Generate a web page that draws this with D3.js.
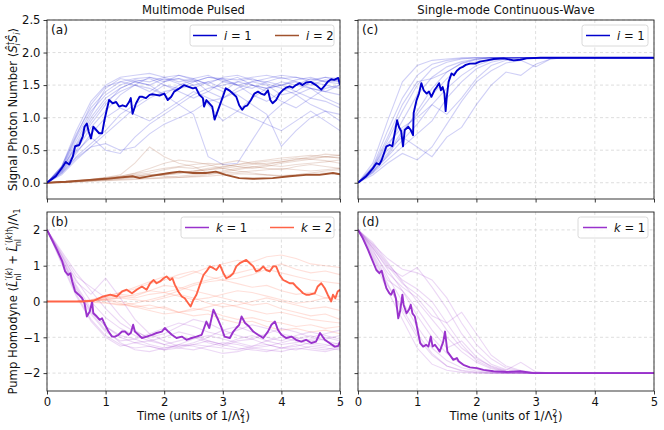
<!DOCTYPE html>
<html>
<head>
<script src="https://d3js.org/d3.v7.min.js"></script>
<style>
  body { margin: 0; background: #fff; }
  text { font-family: "DejaVu Sans", sans-serif; fill: #111; }
  .grid line { stroke: #d6d6d6; stroke-width: 0.8; stroke-dasharray: 3,2.5; }
  .frame { fill: none; stroke: #222; stroke-width: 0.9; }
  .tick line { stroke: #222; stroke-width: 0.9; }
</style>
</head>
<body>
<script>

var width = 664, height = 430;

// common time grid for the faint trajectories
var T = [0,0.25,0.5,0.75,1,1.25,1.5,1.75,2,2.25,2.5,2.75,3,3.25,3.5,3.75,4,4.25,4.5,4.75,5];

// ---- panel (a): multimode pulsed, signal photon number ----
var aBold1 = [[0,0],[0.15,0.10],[0.27,0.25],[0.32,0.32],[0.38,0.28],[0.44,0.40],[0.48,0.56],[0.55,0.58],
  [0.61,0.71],[0.64,0.86],[0.68,0.91],[0.71,0.79],[0.75,0.68],[0.79,0.86],[0.84,0.81],[0.89,0.76],[0.94,0.76],
  [0.98,0.96],[1.02,1.12],[1.06,1.27],[1.12,1.22],[1.18,1.24],[1.23,1.17],[1.29,1.19],[1.35,1.17],[1.40,1.24],
  [1.43,1.30],[1.46,1.06],[1.52,1.22],[1.58,1.32],[1.63,1.32],[1.69,1.30],[1.75,1.35],[1.80,1.36],[1.86,1.35],
  [1.92,1.34],[2.0,1.37],[2.06,1.27],[2.12,1.32],[2.17,1.40],[2.26,1.45],[2.34,1.50],[2.43,1.47],[2.49,1.45],
  [2.54,1.46],[2.60,1.35],[2.66,1.30],[2.68,1.17],[2.72,1.27],[2.77,1.22],[2.82,1.17],[2.86,0.97],[2.90,1.07],
  [2.94,1.17],[3.00,1.32],[3.05,1.45],[3.11,1.42],[3.17,1.37],[3.23,1.32],[3.28,1.19],[3.33,1.12],[3.37,1.17],
  [3.42,1.19],[3.48,1.27],[3.54,1.37],[3.60,1.40],[3.65,1.37],[3.71,1.35],[3.77,1.42],[3.81,1.27],[3.85,1.22],
  [3.91,1.27],[3.97,1.37],[4.02,1.42],[4.08,1.46],[4.14,1.48],[4.19,1.46],[4.25,1.50],[4.31,1.53],[4.36,1.50],
  [4.42,1.54],[4.50,1.55],[4.59,1.50],[4.68,1.43],[4.73,1.48],[4.79,1.55],[4.85,1.59],[4.90,1.58],[4.97,1.61],[5.0,1.50]];
var aBold2 = [[0,0],[0.32,0.015],[0.67,0.04],[1.0,0.06],[1.46,0.10],[1.58,0.07],[1.8,0.11],[2.09,0.15],[2.26,0.17],
  [2.49,0.15],[2.71,0.15],[2.88,0.17],[3.05,0.12],[3.28,0.07],[3.51,0.06],[3.85,0.07],[4.14,0.10],[4.42,0.12],
  [4.65,0.12],[4.88,0.15],[5.0,0.13]];
var aFaint1 = [
  [0,.25,.75,1.15,1.40,1.55,1.60,1.62,1.58,1.60,1.55,1.62,1.60,1.58,1.62,1.65,1.60,1.62,1.58,1.62,1.60],
  [0,.20,.60,1.00,1.30,1.45,1.55,1.50,1.60,1.52,1.45,1.55,1.60,1.50,1.45,1.55,1.62,1.55,1.50,1.58,1.55],
  [0,.18,.50,.85,1.10,1.35,1.50,1.62,1.55,1.65,1.60,1.50,1.40,1.55,1.60,1.52,1.45,1.35,1.20,1.10,1.05],
  [0,.15,.40,.60,.80,1.05,1.20,1.35,1.50,1.45,1.55,1.62,1.58,1.50,1.35,1.25,1.40,1.50,1.45,1.30,1.20],
  [0,.22,.65,1.05,1.45,1.60,1.55,1.50,1.35,1.20,1.05,.40,.28,.30,.65,1.00,1.20,1.35,1.45,1.40,1.50],
  [0,.12,.35,.55,.60,.50,.55,.75,.90,1.00,1.10,1.25,1.30,1.40,1.50,1.45,1.55,1.50,1.60,1.55,1.58],
  [0,.25,.80,1.25,1.50,1.62,1.65,1.68,1.62,1.55,1.60,1.65,1.55,1.50,1.55,1.60,1.65,1.62,1.55,1.50,1.45],
  [0,.16,.45,.75,1.00,1.15,1.05,.95,1.10,1.25,1.40,1.30,1.20,1.10,1.00,.90,.80,.95,1.10,.95,.80],
  [0,.20,.55,.95,1.25,1.40,1.50,1.45,1.35,1.50,1.58,1.40,1.30,1.45,1.55,1.50,1.35,1.40,1.55,1.62,1.55],
  [0,.14,.38,.55,.75,.95,1.15,1.30,1.40,1.45,1.50,1.55,1.45,1.35,1.20,1.05,.56,.80,1.00,1.10,.95],
  [0,.22,.70,1.10,1.35,1.50,1.58,1.55,1.62,1.65,1.58,1.52,1.62,1.65,1.58,1.55,1.50,1.58,1.62,1.55,1.52],
  [0,.18,.48,.70,.50,.45,.70,.90,1.05,1.20,1.35,1.45,1.50,1.55,1.50,1.45,1.50,1.55,1.45,1.40,1.35],
  [0,.24,.72,1.20,1.48,1.55,1.50,1.40,1.55,1.60,1.50,1.20,.95,1.10,1.30,1.45,1.50,1.40,1.30,1.45,1.50],
  [0,.20,.58,.90,1.20,1.45,1.55,1.60,1.50,1.40,1.30,1.40,1.55,1.62,1.50,1.40,1.25,1.15,1.30,1.25,1.15]
];
var aFaint2 = [
  [0,.01,.02,.04,.06,.08,.10,.12,.14,.16,.18,.20,.22,.25,.28,.30,.32,.35,.38,.40,.42],
  [0,.01,.03,.05,.08,.12,.30,.55,.40,.30,.25,.15,.18,.22,.25,.22,.20,.25,.28,.25,.22],
  [0,.01,.02,.03,.05,.07,.09,.10,.12,.15,.18,.22,.25,.28,.32,.35,.38,.40,.42,.40,.38],
  [0,.01,.02,.03,.04,.05,.06,.07,.08,.10,.12,.14,.15,.16,.18,.20,.22,.20,.18,.20,.22],
  [0,.01,.03,.05,.08,.10,.14,.18,.22,.25,.28,.30,.28,.25,.22,.25,.30,.33,.36,.34,.30],
  [0,.00,.01,.02,.03,.04,.05,.06,.07,.08,.09,.10,.12,.14,.13,.12,.11,.12,.14,.15,.13],
  [0,.01,.02,.04,.06,.09,.12,.15,.20,.24,.22,.26,.30,.34,.30,.28,.32,.36,.40,.44,.42],
  [0,.01,.02,.03,.05,.08,.10,.13,.10,.08,.10,.12,.16,.20,.24,.27,.25,.28,.30,.32,.35],
  [0,.01,.02,.04,.07,.10,.15,.22,.30,.35,.32,.28,.22,.18,.15,.12,.10,.12,.15,.18,.20],
  [0,.01,.02,.03,.04,.06,.08,.10,.12,.14,.17,.20,.24,.28,.30,.33,.35,.38,.36,.40,.38]
];

// ---- panel (b): multimode pulsed, pump homodyne ----
var bBold1 = [[0,2],[0.085,1.72],[0.17,1.44],[0.26,1.12],[0.31,0.84],[0.36,0.74],[0.40,0.79],[0.43,0.56],
  [0.48,0.28],[0.54,0.19],[0.60,0.09],[0.64,-0.05],[0.68,-0.42],[0.73,-0.28],[0.77,0.0],[0.79,-0.33],[0.85,-0.42],
  [0.90,-0.51],[0.94,-0.47],[0.99,-0.65],[1.05,-0.84],[1.11,-0.98],[1.16,-0.98],[1.22,-0.93],[1.28,-0.84],
  [1.33,-0.84],[1.39,-0.93],[1.43,-0.88],[1.47,-0.65],[1.50,-0.84],[1.56,-0.93],[1.62,-1.02],[1.70,-0.98],
  [1.79,-0.93],[1.87,-0.88],[1.96,-0.84],[2.01,-0.74],[2.07,-0.84],[2.13,-0.93],[2.21,-1.02],[2.30,-0.98],
  [2.38,-1.07],[2.47,-1.02],[2.55,-0.98],[2.64,-0.93],[2.72,-0.56],[2.77,-0.74],[2.84,-0.23],[2.88,-0.37],
  [2.92,-0.51],[2.97,-0.70],[3.03,-0.98],[3.12,-1.02],[3.18,-0.84],[3.23,-0.74],[3.28,-0.65],[3.32,-0.42],
  [3.38,-0.60],[3.45,-0.70],[3.52,-0.84],[3.60,-0.93],[3.69,-1.02],[3.77,-0.84],[3.83,-0.65],[3.89,-0.56],
  [3.94,-0.79],[4.00,-0.93],[4.08,-1.02],[4.17,-0.98],[4.25,-1.07],[4.34,-1.12],[4.42,-1.07],[4.51,-1.16],
  [4.59,-1.12],[4.66,-0.88],[4.74,-1.07],[4.82,-1.16],[4.91,-1.26],[4.97,-1.24],[5.0,-1.12]];
var bBold2 = [[0,0],[0.6,0],[0.79,0.02],[0.96,0.14],[1.08,0.19],[1.19,0.14],[1.28,0.28],[1.36,0.33],[1.45,0.23],
  [1.53,0.33],[1.62,0.42],[1.70,0.33],[1.76,0.51],[1.82,0.60],[1.87,0.51],[1.93,0.56],[1.99,0.65],[2.04,0.70],
  [2.10,0.60],[2.14,0.65],[2.18,0.47],[2.24,0.28],[2.30,0.14],[2.35,0.09],[2.41,-0.05],[2.45,-0.14],[2.50,0.05],
  [2.55,0.19],[2.61,0.47],[2.67,0.74],[2.72,0.84],[2.78,0.98],[2.84,0.93],[2.89,0.88],[2.95,1.02],[3.01,0.79],
  [3.06,0.65],[3.12,0.70],[3.18,0.79],[3.23,0.98],[3.29,1.07],[3.35,1.12],[3.40,1.16],[3.46,1.07],[3.52,0.98],
  [3.57,0.84],[3.63,0.88],[3.69,0.98],[3.74,0.88],[3.80,0.84],[3.86,0.98],[3.91,0.98],[3.97,0.74],[4.03,0.60],
  [4.08,0.56],[4.14,0.51],[4.20,0.51],[4.25,0.42],[4.31,0.33],[4.37,0.23],[4.42,0.19],[4.48,0.19],[4.57,0.23],
  [4.62,0.42],[4.68,0.51],[4.74,0.37],[4.79,0.19],[4.85,0.0],[4.88,0.19],[4.92,0.09],[4.96,0.28],[5.0,0.33]];
var bFaint1 = [
  [2,1.10,.20,-.50,-.95,-1.20,-1.30,-1.25,-1.35,-1.30,-1.20,-1.25,-1.30,-1.35,-1.25,-1.20,-1.30,-1.35,-1.25,-1.30,-1.35],
  [2,1.25,.45,-.20,-.70,-1.00,-1.15,-1.10,-1.00,-.85,-.95,-1.10,-1.20,-1.05,-.95,-1.10,-1.20,-1.15,-1.05,-1.00,-1.10],
  [2,1.35,.70,.40,.10,-.40,-.80,-1.05,-1.20,-1.30,-1.35,-1.25,-1.15,-1.20,-1.30,-1.25,-1.15,-1.05,-.95,-1.10,-1.20],
  [2,1.15,.30,-.35,-.85,-1.10,-1.05,-.90,-.75,-.60,-.70,-.85,-.95,-.80,-.65,-.75,-.90,-1.00,-1.10,-1.05,-.95],
  [2,1.30,.55,.20,.65,.10,-.50,-.90,-1.10,-1.25,-1.20,-1.10,-1.20,-1.30,-1.35,-1.40,-1.30,-1.20,-1.30,-1.35,-1.25],
  [2,1.20,.40,-.30,-.80,-1.15,-1.35,-1.40,-1.30,-1.20,-1.25,-1.35,-1.45,-1.40,-1.30,-1.35,-1.40,-1.30,-1.35,-1.40,-1.30],
  [2,1.40,.80,.30,-.20,-.60,-.85,-1.00,-.90,-.70,-.50,-.60,-.80,-.95,-1.05,-.90,-.75,-.85,-1.00,-.90,-.80],
  [2,1.05,.15,-.55,-1.00,-1.25,-1.15,-1.25,-1.35,-1.20,-1.05,-.95,-1.05,-1.15,-1.25,-1.10,-1.00,-1.10,-1.20,-1.25,-1.15],
  [2,1.30,.60,.00,-.45,-.75,-.95,-1.10,-1.20,-1.10,-1.00,-1.15,-1.25,-1.10,-1.05,-1.20,-1.30,-1.25,-1.15,-1.20,-1.30],
  [2,1.20,.35,-.25,-.70,-.95,-1.05,-1.20,-1.30,-1.25,-1.15,-1.00,-.80,-.70,-.85,-1.00,-1.10,-.95,-.85,-.95,-1.05]
];
var bFaint2 = [
  [0,0,0,.05,.15,.25,.40,.55,.70,.65,.80,.95,1.05,1.15,1.10,1.25,1.30,1.20,1.05,1.00,.95],
  [0,0,0,.02,.05,.00,-.10,-.20,-.15,-.30,-.40,-.35,-.50,-.60,-.55,-.70,-.80,-.75,-.85,-.80,-.90],
  [0,0,0,.03,.10,.20,.15,.30,.45,.40,.30,.20,.10,.00,-.10,-.05,-.20,-.30,-.40,-.35,-.50],
  [0,0,0,-.02,-.05,-.10,-.05,.05,.15,.30,.45,.55,.60,.50,.40,.45,.30,.20,.25,.10,.05],
  [0,0,0,.04,.12,.25,.35,.50,.60,.75,.85,.70,.60,.65,.75,.90,.80,.70,.60,.55,.50],
  [0,0,0,.01,.04,-.05,-.15,-.25,-.35,-.30,-.20,-.25,-.40,-.50,-.45,-.55,-.60,-.70,-.65,-.75,-.70],
  [0,0,0,.02,.08,.15,.10,.20,.25,.15,.05,.10,.20,.30,.25,.15,.05,-.05,.00,.10,.15],
  [0,0,0,.03,.06,.10,.20,.30,.25,.35,.50,.60,.70,.80,.90,.95,1.05,.90,.80,.85,.75],
  [0,0,0,.00,-.03,-.08,-.15,-.10,-.20,-.30,-.25,-.15,-.05,-.15,-.25,-.35,-.30,-.40,-.50,-.55,-.60],
  [0,0,0,.02,.05,.10,.05,.00,.10,.20,.10,-.05,-.15,-.10,.00,.10,.00,-.10,-.20,-.15,-.25]
];

// ---- panel (c): single-mode CW, signal photon number ----
var cBold1 = [[0,0],[0.14,0.10],[0.25,0.22],[0.31,0.30],[0.36,0.28],[0.40,0.35],[0.45,0.48],[0.48,0.56],
  [0.54,0.58],[0.58,0.56],[0.62,0.76],[0.66,0.96],[0.69,0.86],[0.73,0.79],[0.76,0.56],[0.79,0.81],[0.85,0.86],
  [0.89,0.81],[0.93,0.73],[0.94,1.07],[0.99,1.27],[1.03,1.37],[1.07,1.53],[1.11,1.42],[1.16,1.37],[1.20,1.40],
  [1.24,1.32],[1.29,1.42],[1.33,1.47],[1.37,1.53],[1.40,1.42],[1.43,1.47],[1.46,1.37],[1.48,1.10],[1.50,1.32],
  [1.53,1.55],[1.58,1.68],[1.62,1.65],[1.67,1.72],[1.72,1.76],[1.77,1.78],[1.82,1.81],[1.89,1.83],[1.98,1.83],
  [2.06,1.86],[2.18,1.88],[2.29,1.90],[2.46,1.91],[2.63,1.88],[2.74,1.89],[2.85,1.91],[3.08,1.92],[5.0,1.92]];
var cFaint1 = [
  [0,.30,.95,1.55,1.80,1.88,1.90,1.92,1.92,1.92,1.92,1.92,1.92,1.92,1.92,1.92,1.92,1.92,1.92,1.92,1.92],
  [0,.22,.65,1.10,1.50,1.75,1.85,1.90,1.92,1.92,1.92,1.92,1.92,1.92,1.92,1.92,1.92,1.92,1.92,1.92,1.92],
  [0,.18,.45,.80,1.05,1.35,1.60,1.78,1.86,1.90,1.92,1.92,1.92,1.92,1.92,1.92,1.92,1.92,1.92,1.92,1.92],
  [0,.15,.35,.55,.75,.95,1.30,1.55,1.75,1.85,1.90,1.92,1.92,1.92,1.92,1.92,1.92,1.92,1.92,1.92,1.92],
  [0,.20,.50,.70,.55,.40,.70,.85,1.20,1.50,1.70,1.65,1.82,1.90,1.92,1.92,1.92,1.92,1.92,1.92,1.92],
  [0,.25,.80,1.30,1.65,1.82,1.88,1.91,1.92,1.92,1.92,1.92,1.92,1.92,1.92,1.92,1.92,1.92,1.92,1.92,1.92],
  [0,.17,.40,.65,.90,1.20,1.05,1.30,1.60,1.80,1.88,1.90,1.92,1.92,1.92,1.92,1.92,1.92,1.92,1.92,1.92],
  [0,.20,.55,.95,1.35,1.62,1.78,1.86,1.90,1.92,1.92,1.92,1.92,1.92,1.92,1.92,1.92,1.92,1.92,1.92,1.92],
  [0,.12,.30,.45,.35,.55,.90,1.25,1.55,1.72,1.84,1.88,1.78,1.90,1.92,1.92,1.92,1.92,1.92,1.92,1.92],
  [0,.24,.70,1.20,1.55,1.60,1.70,1.84,1.90,1.92,1.92,1.92,1.92,1.92,1.92,1.92,1.92,1.92,1.92,1.92,1.92],
  [0,.16,.42,.75,1.10,1.45,1.70,1.83,1.89,1.92,1.92,1.92,1.92,1.92,1.92,1.92,1.92,1.92,1.92,1.92,1.92],
  [0,.22,.60,.85,1.00,1.20,1.45,1.65,1.80,1.88,1.91,1.92,1.92,1.92,1.92,1.92,1.92,1.92,1.92,1.92,1.92]
];

// ---- panel (d): single-mode CW, pump homodyne ----
var dBold1 = [[0,2],[0.08,1.77],[0.17,1.44],[0.25,1.12],[0.31,0.88],[0.36,0.79],[0.40,0.86],[0.44,0.60],
  [0.48,0.37],[0.53,0.23],[0.56,0.19],[0.60,0.33],[0.64,0.09],[0.68,-0.47],[0.71,-0.28],[0.75,0.19],[0.77,-0.09],
  [0.82,-0.33],[0.86,-0.23],[0.89,-0.09],[0.92,-0.33],[0.96,-0.42],[1.0,-0.74],[1.05,-1.16],[1.10,-1.26],
  [1.15,-1.21],[1.19,-1.26],[1.23,-0.98],[1.26,-1.26],[1.30,-1.21],[1.34,-1.30],[1.38,-1.40],[1.44,-1.12],
  [1.47,-0.84],[1.51,-1.40],[1.55,-1.49],[1.61,-1.63],[1.67,-1.58],[1.70,-1.67],[1.78,-1.77],[1.89,-1.84],
  [2.01,-1.86],[2.12,-1.91],[2.29,-1.95],[2.51,-1.97],[2.74,-1.95],[2.97,-2.0],[5.0,-2.0]];
var dFaint1 = [
  [2,1.30,.50,-.30,-1.00,-1.50,-1.80,-1.92,-1.97,-2,-2,-2,-2,-2,-2,-2,-2,-2,-2,-2,-2],
  [2,1.50,.90,.30,-.40,-1.00,-1.45,-1.75,-1.90,-1.96,-2,-2,-2,-2,-2,-2,-2,-2,-2,-2,-2],
  [2,1.60,1.20,.90,.80,.60,.10,-.60,-1.20,-1.60,-1.85,-1.95,-2,-2,-2,-2,-2,-2,-2,-2,-2],
  [2,1.40,.80,.40,.10,-.40,-.60,-.30,-.90,-1.50,-1.80,-1.93,-1.98,-2,-2,-2,-2,-2,-2,-2,-2],
  [2,1.20,.30,-.50,-1.30,-1.75,-1.92,-1.98,-2,-2,-2,-2,-2,-2,-2,-2,-2,-2,-2,-2,-2],
  [2,1.55,1.00,.50,.20,-.20,-.80,-1.30,-1.60,-1.80,-1.92,-1.70,-1.96,-2,-2,-2,-2,-2,-2,-2,-2],
  [2,1.45,.70,.00,-.70,-1.30,-1.65,-1.85,-1.94,-1.98,-2,-2,-2,-2,-2,-2,-2,-2,-2,-2,-2],
  [2,1.65,1.10,.55,.00,-.50,-1.00,-1.40,-1.70,-1.88,-1.95,-1.98,-2,-2,-2,-2,-2,-2,-2,-2,-2],
  [2,1.35,.60,.30,-.20,-.80,-1.30,-1.10,-1.55,-1.82,-1.94,-1.98,-2,-2,-2,-2,-2,-2,-2,-2,-2],
  [2,1.50,.95,.70,.95,.40,-.20,-.90,-1.40,-1.75,-1.90,-1.97,-2,-2,-2,-2,-2,-2,-2,-2,-2],
  [2,1.25,.45,-.20,-.90,-1.45,-1.80,-1.94,-1.99,-2,-2,-2,-2,-2,-2,-2,-2,-2,-2,-2,-2],
  [2,1.58,1.05,.60,.35,.00,-.60,-1.20,-1.65,-1.85,-1.95,-1.99,-2,-2,-2,-2,-2,-2,-2,-2,-2]
];

var topTicks = [0,0.5,1,1.5,2,2.5];
var botTicks = [-2,-1,0,1,2];
var xTicks = [0,1,2,3,4,5];

var blue = "#0000cd", brown = "#a0522d", purple = "#9932cc", tomato = "#ff6347";

var svg = d3.select("body").append("svg")
    .attr("width", width)
    .attr("height", height);

var FS = 11.6;

var xL = d3.scaleLinear().domain([0,5]).range([47,340]);
var xR = d3.scaleLinear().domain([0,5]).range([358,654]);
var yTop = d3.scaleLinear().domain([-0.25,2.5]).range([199,20]);
var yBot = d3.scaleLinear().domain([-2.5,2.5]).range([391,212]);

// baseline-tracking helper for mathtext-like labels
function mathText(sel, parts) {
  var cur = 0;
  parts.forEach(function(p) {
    var s = p.s || 0;
    var ts = sel.append("tspan").text(p.t).attr("dy", s - cur);
    if (p.dx) ts.attr("dx", p.dx);
    if (p.it) ts.attr("font-style", "italic");
    if (p.fs) ts.attr("font-size", p.fs);
    cur = s;
  });
}

function panel(x, y, yTicks, yFmt, showX, showY, label) {
  var g = svg.append("g");
  var x0 = x.range()[0], x1 = x.range()[1], y0 = y.range()[1], y1 = y.range()[0];

  // grid
  var grid = g.append("g").attr("class", "grid");
  grid.selectAll(".gx").data(xTicks).enter().append("line")
      .attr("x1", function(d) { return x(d); }).attr("x2", function(d) { return x(d); })
      .attr("y1", y0).attr("y2", y1);
  grid.selectAll(".gy").data(yTicks).enter().append("line")
      .attr("y1", function(d) { return y(d); }).attr("y2", function(d) { return y(d); })
      .attr("x1", x0).attr("x2", x1);

  g.append("defs").append("clipPath").attr("id", "clip" + label)
    .append("rect").attr("x", x0).attr("y", y0).attr("width", x1 - x0).attr("height", y1 - y0);
  var plot = g.append("g").attr("clip-path", "url(#clip" + label + ")");

  // axes
  var ax = d3.axisBottom(x).tickValues(xTicks).tickSize(3.5).tickPadding(3)
      .tickFormat(showX ? d3.format("d") : "");
  g.append("g").attr("transform", "translate(0," + y1 + ")").call(ax)
    .call(function(s) { s.select(".domain").remove(); })
    .selectAll("text").attr("font-size", FS).attr("font-family", "DejaVu Sans").attr("fill", "#111");
  var ay = d3.axisLeft(y).tickValues(yTicks).tickSize(3.5).tickPadding(3)
      .tickFormat(showY ? yFmt : "");
  g.append("g").attr("transform", "translate(" + x0 + ",0)").call(ay)
    .call(function(s) { s.select(".domain").remove(); })
    .selectAll("text").attr("font-size", FS).attr("font-family", "DejaVu Sans").attr("fill", "#111");

  g.append("rect").attr("class", "frame")
    .attr("x", x0).attr("y", y0).attr("width", x1 - x0).attr("height", y1 - y0);

  g.append("text").attr("x", x0 + 4).attr("y", y0 + 14).attr("font-size", FS + 0.6).text("(" + label + ")");
  return plot;
}

function faint(plot, x, y, list, color, op) {
  var line = d3.line().x(function(d, i) { return x(T[i]); }).y(function(d) { return y(d); });
  plot.selectAll(null).data(list).enter().append("path")
    .attr("d", line).attr("fill", "none").attr("stroke", color)
    .attr("stroke-opacity", op).attr("stroke-width", 1.1);
}

function bold(plot, x, y, pts, color) {
  var line = d3.line().x(function(d) { return x(d[0]); }).y(function(d) { return y(d[1]); });
  plot.append("path").attr("d", line(pts)).attr("fill", "none").attr("stroke", color)
    .attr("stroke-width", 1.9).attr("stroke-linejoin", "round");
}

function legend(bx, by, bw, entries) {
  var g = svg.append("g");
  g.append("rect").attr("x", bx).attr("y", by).attr("width", bw).attr("height", 21)
    .attr("rx", 2.5).attr("fill", "#fff").attr("fill-opacity", 0.85)
    .attr("stroke", "#d0d0d0").attr("stroke-width", 0.8);
  entries.forEach(function(e) {
    g.append("line").attr("x1", e.x).attr("x2", e.x + 24).attr("y1", by + 10.5).attr("y2", by + 10.5)
      .attr("stroke", e.c).attr("stroke-width", 1.5);
    var t = g.append("text").attr("x", e.x + 31).attr("y", by + 15).attr("font-size", FS);
    mathText(t, [{t: e.v, it: true}, {t: " = " + e.n}]);
  });
}

var fmt1 = d3.format(".1f");
var fmt0 = d3.format("d");

var pa = panel(xL, yTop, topTicks, fmt1, false, true, "a");
faint(pa, xL, yTop, aFaint2, brown, 0.2);
faint(pa, xL, yTop, aFaint1, blue, 0.19);
bold(pa, xL, yTop, aBold2, brown);
bold(pa, xL, yTop, aBold1, blue);

var pc = panel(xR, yTop, topTicks, fmt1, false, false, "c");
faint(pc, xR, yTop, cFaint1, blue, 0.19);
bold(pc, xR, yTop, cBold1, blue);

var pb = panel(xL, yBot, botTicks, fmt0, true, true, "b");
faint(pb, xL, yBot, bFaint1, purple, 0.19);
faint(pb, xL, yBot, bFaint2, tomato, 0.2);
bold(pb, xL, yBot, bBold1, purple);
bold(pb, xL, yBot, bBold2, tomato);

var pd = panel(xR, yBot, botTicks, fmt0, true, false, "d");
faint(pd, xR, yBot, dFaint1, purple, 0.19);
bold(pd, xR, yBot, dBold1, purple);

legend(190, 25, 144, [{x: 193, c: blue, v: "i", n: "1"}, {x: 275, c: brown, v: "i", n: "2"}]);
legend(181, 217, 153, [{x: 185, c: purple, v: "k", n: "1"}, {x: 270, c: tomato, v: "k", n: "2"}]);
legend(582, 25, 66, [{x: 586, c: blue, v: "i", n: "1"}]);
legend(578, 217, 70, [{x: 583, c: purple, v: "k", n: "1"}]);

// titles
svg.append("text").attr("x", 193.5).attr("y", 14).attr("text-anchor", "middle").attr("font-size", FS).text("Multimode Pulsed");
svg.append("text").attr("x", 506).attr("y", 14).attr("text-anchor", "middle").attr("font-size", FS).text("Single-mode Continuous-Wave");

// x labels
[193.5, 506].forEach(function(cx) {
  var t = svg.append("text").attr("x", cx).attr("y", 420).attr("text-anchor", "middle").attr("font-size", FS);
  mathText(t, [{t: "Time (units of 1/Λ"}, {t: "2", s: -4.5, fs: 8}, {t: "1", s: 3, fs: 8, dx: -4.6}, {t: ")", s: 0}]);
});

// y labels
var yl1 = svg.append("text").attr("transform", "translate(17,109.5) rotate(-90)")
  .attr("text-anchor", "middle").attr("font-size", FS);
mathText(yl1, [{t: "Signal Photon Number "}, {t: "⟨"}, {t: "Ŝ", it: true},
  {t: "†", s: -4.5, fs: 8}, {t: "i", it: true, s: 3, fs: 8, dx: -4}, {t: "Ŝ", it: true, s: 0, dx: 1},
  {t: "i", it: true, s: 3, fs: 8}, {t: "⟩", s: 0}]);

var yl2 = svg.append("text").attr("transform", "translate(17,301.5) rotate(-90)")
  .attr("text-anchor", "middle").attr("font-size", FS);
mathText(yl2, [{t: "Pump Homodyne "}, {t: "⟨"}, {t: "L\u0302", it: true},
  {t: "′(", s: -5, fs: 8}, {t: "k", it: true, s: -5, fs: 8}, {t: ")", s: -5, fs: 8},
  {t: "nl", s: 3.5, fs: 8, dx: -13}, {t: " + ", s: 0, dx: 5},
  {t: "L\u0302", it: true}, {t: "′(", s: -5, fs: 8}, {t: "k", it: true, s: -5, fs: 8}, {t: ")†", s: -5, fs: 8},
  {t: "nl", s: 3.5, fs: 8, dx: -18}, {t: "⟩/Λ", s: 0, dx: 9}, {t: "1", s: 3, fs: 8}]);

</script>
</body>
</html>
